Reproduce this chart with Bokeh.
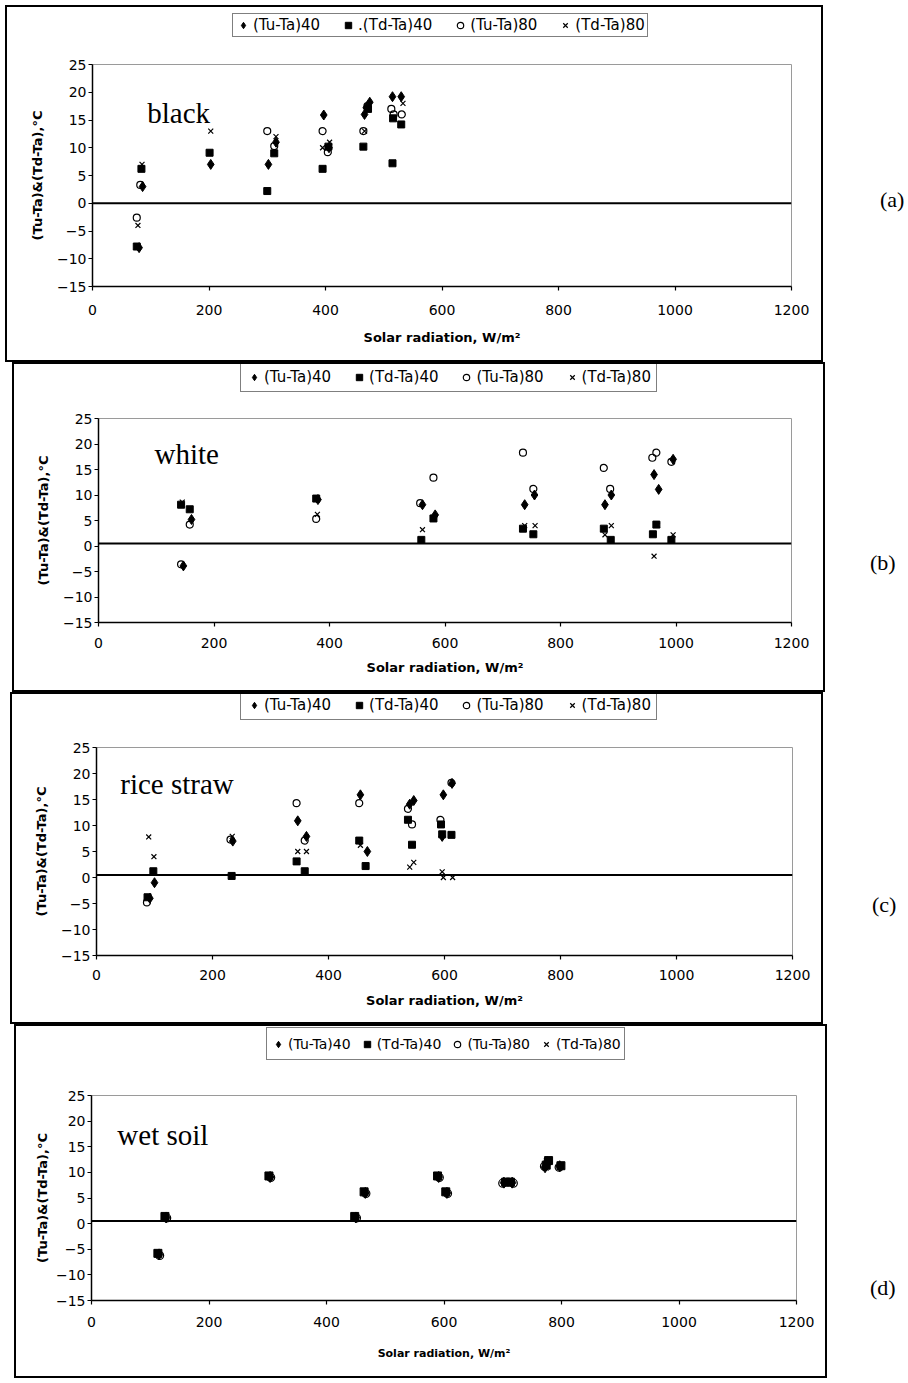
from bokeh.plotting import figure
from bokeh.models import Range1d, FixedTicker, Span, Label, Legend, LegendItem, Div
from bokeh.layouts import column, row
from bokeh.embed import file_html
from bokeh.resources import INLINE

# ---------------- data ----------------
x_ticks = [0, 200, 400, 600, 800, 1000, 1200]
y_ticks = [-15, -10, -5, 0, 5, 10, 15, 20, 25]
x_title = "Solar radiation, W/m²"
y_title = "(Tu-Ta)&(Td-Ta),°C"
legend_a = ["(Tu-Ta)40", ".(Td-Ta)40", "(Tu-Ta)80", "(Td-Ta)80"]
legend_bcd = ["(Tu-Ta)40", "(Td-Ta)40", "(Tu-Ta)80", "(Td-Ta)80"]
surfaces = ["black", "white", "rice straw", "wet soil"]
panel_tags = ["(a)", "(b)", "(c)", "(d)"]

# (a) black
a_tu40_x = [80, 86, 203, 302, 315, 397, 406, 467, 470, 476, 515, 530]
a_tu40_y = [-8.0, 3.0, 7.0, 7.0, 11.0, 15.9, 10.0, 16.0, 17.2, 18.2, 19.2, 19.2]
a_td40_x = [76, 84, 201, 300, 312, 395, 405, 465, 473, 515, 516, 530]
a_td40_y = [-7.8, 6.2, 9.1, 2.2, 9.0, 6.2, 10.2, 10.2, 17.0, 7.2, 15.3, 14.2]
a_tu80_x = [76, 82, 300, 312, 395, 404, 465, 472, 513, 517, 531]
a_tu80_y = [-2.6, 3.3, 13.0, 10.3, 13.0, 9.2, 13.0, 17.5, 17.0, 16.0, 16.0]
a_td80_x = [78, 85, 203, 315, 395, 407, 467, 475, 533]
a_td80_y = [-4.0, 7.0, 13.0, 12.0, 10.0, 11.0, 13.0, 17.8, 18.0]

# (b) white
b_tu40_x = [147, 161, 380, 561, 583, 738, 755, 877, 888, 962, 970, 995]
b_tu40_y = [-3.9, 5.2, 9.1, 8.1, 6.1, 8.1, 10.0, 8.1, 10.0, 14.0, 11.1, 17.0]
b_td40_x = [143, 158, 377, 559, 580, 735, 753, 875, 887, 960, 966, 992]
b_td40_y = [8.1, 7.2, 9.3, 1.2, 5.4, 3.4, 2.3, 3.4, 1.2, 2.3, 4.2, 1.2]
b_tu80_x = [143, 158, 377, 557, 580, 735, 753, 875, 886, 959, 966, 992]
b_tu80_y = [-3.6, 4.2, 5.3, 8.4, 13.4, 18.3, 11.2, 15.3, 11.2, 17.3, 18.3, 16.5]
b_td80_x = [145, 379, 561, 738, 756, 877, 888, 962, 968, 995]
b_td80_y = [8.6, 6.2, 3.2, 4.0, 4.0, 2.2, 4.0, -2.0, 4.1, 2.2]

# (c) rice straw
c_tu40_x = [92, 100, 235, 347, 362, 455, 467, 540, 547, 596, 598, 613]
c_tu40_y = [-4.0, -1.0, 7.0, 10.9, 7.9, 15.9, 5.0, 14.1, 14.8, 7.9, 15.9, 18.1]
c_td40_x = [88, 98, 233, 345, 359, 453, 464, 537, 544, 594, 596, 612]
c_td40_y = [-3.8, 1.2, 0.3, 3.1, 1.2, 7.1, 2.2, 11.1, 6.3, 10.2, 8.3, 8.2]
c_tu80_x = [87, 231, 345, 359, 453, 537, 544, 593, 612]
c_tu80_y = [-4.8, 7.3, 14.3, 7.1, 14.3, 13.2, 10.2, 11.1, 18.2]
c_td80_x = [90, 99, 234, 347, 362, 455, 540, 547, 596, 598, 614]
c_td80_y = [7.8, 4.0, 7.9, 5.0, 5.0, 6.2, 2.0, 2.9, 1.1, 0.0, 0.0]

# (d) wet soil
d_tu40_x = [115, 127, 304, 450, 466, 591, 605, 702, 716, 772, 776, 797]
d_tu40_y = [-6.0, 1.2, 9.1, 1.2, 6.0, 9.1, 6.0, 8.0, 8.0, 11.0, 12.0, 11.2]
d_td40_x = [113, 125, 302, 448, 464, 589, 603, 705, 713, 774, 778, 799]
d_td40_y = [-5.8, 1.4, 9.3, 1.4, 6.2, 9.3, 6.2, 8.1, 8.1, 11.4, 12.3, 11.3]
d_tu80_x = [116, 128, 305, 451, 467, 592, 606, 700, 718, 771, 777, 796]
d_tu80_y = [-6.2, 1.1, 9.0, 1.1, 5.9, 9.0, 5.9, 7.9, 7.9, 11.2, 12.1, 11.0]
d_td80_x = [114, 126, 303, 449, 465, 590, 604, 704, 715, 773, 775, 798]
d_td80_y = [-6.0, 1.3, 9.2, 1.3, 6.1, 9.2, 6.1, 8.0, 8.0, 10.9, 12.2, 11.2]

zero_lines = [0.0, 0.5, 0.5, 0.5]
# surface-name text anchors (data units)
name_x = [94, 97, 41, 44]
name_y = [16.2, 18.0, 18.0, 17.3]

panels_data = [
    [(a_tu40_x, a_tu40_y), (a_td40_x, a_td40_y), (a_tu80_x, a_tu80_y), (a_td80_x, a_td80_y)],
    [(b_tu40_x, b_tu40_y), (b_td40_x, b_td40_y), (b_tu80_x, b_tu80_y), (b_td80_x, b_td80_y)],
    [(c_tu40_x, c_tu40_y), (c_td40_x, c_td40_y), (c_tu80_x, c_tu80_y), (c_td80_x, c_td80_y)],
    [(d_tu40_x, d_tu40_y), (d_td40_x, d_td40_y), (d_tu80_x, d_tu80_y), (d_td80_x, d_td80_y)],
]
legend_texts = [legend_a, legend_bcd, legend_bcd, legend_bcd]

# ---------------- layout / style ----------------
# fig_w, legend strip height, main fig height, left, right, top, bottom borders, margin_left
geom = [
    (814, 32, 321, 85, 30, 25, 74, 5),
    (809, 30, 296, 84, 32, 24, 68, 12),
    (809, 28, 300, 84, 29, 25, 67, 10),
    (809, 36, 314, 75, 29, 33, 76, 14),
]
# legend: vx (from frame left), padding, spacing, font size, label_height
legend_geo = [
    (140, 2, 20, "15px", 15),
    (142, 5, 20, "15px", 15),
    (144, 5, 20, "15px", 15),
    (175, 3, 8, "14px", 25),
]
ylab_standoff = [9, 9, 9, 3]
xtick_standoff = [14, 11, 10, 12]
xlab_standoff = [12, 9, 10, 17]
xlab_size = ["13px", "13px", "13px", "11px"]
tag_geo = [(80, 57, 179), (78, 45, 185), (80, 49, 197), (76, 43, 248)]
marker_sizes = [8, 8, 8, 9]

FONT = "DejaVu Sans"
NAN = float("nan")


def add_series(fig, data, ms):
    (x1, y1), (x2, y2), (x3, y3), (x4, y4) = data
    r1 = fig.scatter(x1, y1, marker="diamond", size=ms + 2, fill_color="black", line_color="black")
    r2 = fig.scatter(x2, y2, marker="square", size=ms - 1, fill_color="black", line_color="black")
    r3 = fig.scatter(x3, y3, marker="circle", size=ms - 1, fill_color=None, line_color="black", line_width=1.2)
    r4 = fig.scatter(x4, y4, marker="x", size=ms - 1, line_color="black", line_width=1.2)
    return [r1, r2, r3, r4]


rows = []
for i in range(4):
    fw, lh_strip, fh, bl, br, bt, bb, ml = geom[i]

    # legend strip: same marker styles (no visible points), legend drawn inside its frame
    lf = figure(width=fw, height=lh_strip, x_range=Range1d(0, 1), y_range=Range1d(0, 1),
                output_backend="svg", toolbar_location=None, x_axis_location=None, y_axis_location=None,
                min_border_left=0, min_border_right=0, min_border_top=0, min_border_bottom=0)
    lf.grid.visible = False
    lf.outline_line_color = None
    lf.background_fill_color = "white"
    lf.border_fill_color = "white"
    placeholder = [([NAN], [NAN])] * 4
    lrs = add_series(lf, placeholder, 8 if i < 3 else 9)
    vx, pad, sp, lfs, lab_h = legend_geo[i]
    items = [LegendItem(label=lab, renderers=[r]) for lab, r in zip(legend_texts[i], lrs)]
    leg = Legend(items=items, orientation="horizontal", location=(vx, 2),
                 border_line_color="black", border_line_width=1, background_fill_color="white",
                 background_fill_alpha=1, padding=pad, spacing=sp, label_standoff=2,
                 glyph_width=16, glyph_height=16, label_height=lab_h, margin=0,
                 label_text_font=FONT, label_text_font_size=lfs, label_text_color="black")
    lf.add_layout(leg)

    p = figure(width=fw, height=fh, x_range=Range1d(0, 1200), y_range=Range1d(-15, 25),
               output_backend="svg", toolbar_location=None,
               min_border_left=bl, min_border_right=br, min_border_top=bt, min_border_bottom=bb)
    p.background_fill_color = "white"
    p.border_fill_color = "white"
    p.outline_line_color = "#9a9a9a"
    p.outline_line_width = 1
    p.xgrid.visible = False
    p.ygrid.visible = False
    p.xaxis.ticker = FixedTicker(ticks=x_ticks)
    p.yaxis.ticker = FixedTicker(ticks=y_ticks)
    p.axis.minor_tick_line_color = None
    p.axis.major_tick_in = 0
    p.axis.major_tick_out = 4
    p.axis.axis_line_width = 1.5
    p.axis.major_tick_line_width = 1.2
    p.axis.axis_line_color = "black"
    p.axis.major_tick_line_color = "black"
    p.axis.major_label_text_font = FONT
    p.axis.major_label_text_font_size = "14px"
    p.axis.major_label_text_color = "black"
    p.yaxis.major_label_standoff = 2
    p.xaxis.major_label_standoff = xtick_standoff[i]
    p.xaxis.axis_label = x_title
    p.yaxis.axis_label = y_title
    p.axis.axis_label_text_font = FONT
    p.yaxis.axis_label_text_font_size = "13px"
    p.xaxis.axis_label_text_font_size = xlab_size[i]
    p.axis.axis_label_text_font_style = "bold"
    p.axis.axis_label_text_color = "black"
    p.xaxis.axis_label_standoff = xlab_standoff[i]
    p.yaxis.axis_label_standoff = ylab_standoff[i]

    p.add_layout(Span(location=zero_lines[i], dimension="width", line_color="black", line_width=2))
    add_series(p, panels_data[i], marker_sizes[i])

    p.add_layout(Label(x=name_x[i], y=name_y[i], text=surfaces[i], text_font="Liberation Serif",
                       text_font_size="29px", text_color="black", text_baseline="alphabetic"))

    box = column(lf, p, spacing=0, styles={"border": "2px solid black"}, margin=(0, 0, 0, ml))
    dw, dx, dy = tag_geo[i]
    tag = Div(text=f'<div style="position:relative; left:{dx}px; top:{dy}px; font-family:\'Liberation Serif\'; font-size:22px; color:black; white-space:nowrap">{panel_tags[i]}</div>',
              width=dw, height=lh_strip + fh + 4, margin=0)
    rows.append(row(box, tag, spacing=0))

layout = column(*rows, spacing=0, margin=(5, 0, 0, 0))
open("out.html", "w").write(file_html(layout, INLINE))
